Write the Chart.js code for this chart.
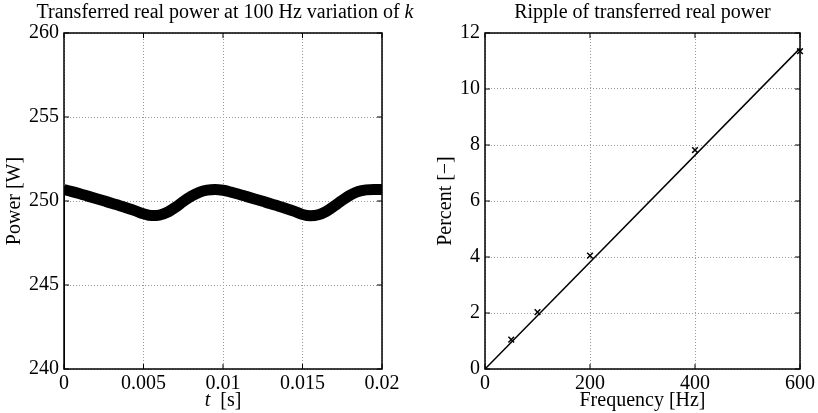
<!DOCTYPE html>
<html>
<head>
<meta charset="utf-8">
<script src="https://cdn.jsdelivr.net/npm/chart.js@4.4.0/dist/chart.umd.min.js"></script>
<style>
html, body { margin: 0; padding: 0; background: #fff; }
#wrap { position: relative; width: 818px; height: 413px; overflow: hidden; }
#left { position: absolute; left: 0; top: 0; width: 440px; height: 413px; }
#right { position: absolute; left: 409px; top: 0; width: 409px; height: 413px; }
</style>
</head>
<body>
<div id="wrap">
  <div id="left"><canvas id="powerChart"></canvas></div>
  <div id="right"><canvas id="rippleChart"></canvas></div>
</div>
<script>
// left plot: transferred power over one 20 ms window
var timeS = [0, 0.0005, 0.001, 0.0015, 0.002, 0.0025, 0.003, 0.0035, 0.004, 0.0045,
  0.005, 0.0055, 0.006, 0.0065, 0.007, 0.0075, 0.008, 0.0085, 0.009, 0.0095,
  0.01, 0.0105, 0.011, 0.0115, 0.012, 0.0125, 0.013, 0.0135, 0.014, 0.0145,
  0.015, 0.0155, 0.016, 0.0165, 0.017, 0.0175, 0.018, 0.0185, 0.019, 0.0195, 0.02];
var powerW = [250.68, 250.56, 250.43, 250.29, 250.15, 250.01, 249.87, 249.72, 249.57, 249.41,
  249.24, 249.13, 249.16, 249.33, 249.62, 249.97, 250.28, 250.52, 250.65, 250.69,
  250.64, 250.53, 250.40, 250.26, 250.12, 249.98, 249.84, 249.69, 249.54, 249.38,
  249.20, 249.12, 249.18, 249.38, 249.70, 250.05, 250.35, 250.56, 250.66, 250.69, 250.68];
// start-up jump at t = 0
var startTimeS = [0, 0];
var startPowerW = [240, 250.9];
var powerTicksX = [0, 0.005, 0.01, 0.015, 0.02];
var powerTickLabelsX = ['0', '0.005', '0.01', '0.015', '0.02'];
var powerTicksY = [240, 245, 250, 255, 260];

// right plot: ripple vs frequency
var measFreqHz = [50, 100, 200, 400, 600];
var measRipplePct = [1.05, 2.03, 4.05, 7.82, 11.35];
var fitFreqHz = [0, 600];
var fitRipplePct = [0, 11.45];
var rippleTicksX = [0, 200, 400, 600];
var rippleTicksY = [0, 2, 4, 6, 8, 10, 12];

var FONT = '"Liberation Serif", "Times New Roman", serif';
var SIZE = 20;

function pairs(xs, ys) {
  return xs.map(function (x, i) { return { x: x, y: ys[i] }; });
}

function fixedTicks(list) {
  return function (scale) {
    scale.ticks = list.map(function (v) { return { value: v }; });
  };
}

// box round the plot area plus inward ticks, like the original figure
var boxPlugin = {
  id: 'box',
  afterDraw: function (chart) {
    var ctx = chart.ctx, a = chart.chartArea;
    var sx = chart.scales.x, sy = chart.scales.y;
    ctx.save();
    ctx.strokeStyle = '#000';
    ctx.lineWidth = 1.5;
    ctx.strokeRect(a.left, a.top, a.right - a.left, a.bottom - a.top);
    ctx.lineWidth = 1;
    ctx.beginPath();
    sx.ticks.forEach(function (t) {
      var px = sx.getPixelForValue(t.value);
      ctx.moveTo(px, a.bottom); ctx.lineTo(px, a.bottom - 5);
      ctx.moveTo(px, a.top); ctx.lineTo(px, a.top + 5);
    });
    sy.ticks.forEach(function (t) {
      var py = sy.getPixelForValue(t.value);
      ctx.moveTo(a.left, py); ctx.lineTo(a.left + 5, py);
      ctx.moveTo(a.right, py); ctx.lineTo(a.right - 5, py);
    });
    ctx.stroke();
    ctx.restore();
  }
};

// titles with italic parts
var richTextPlugin = {
  id: 'richText',
  afterDraw: function (chart, args, opts) {
    var ctx = chart.ctx, a = chart.chartArea;
    (opts.items || []).forEach(function (item) {
      ctx.save();
      ctx.fillStyle = '#000';
      ctx.textBaseline = 'middle';
      ctx.textAlign = 'left';
      var total = 0;
      item.parts.forEach(function (p) {
        ctx.font = (p.italic ? 'italic ' : '') + SIZE + 'px ' + FONT;
        p.w = ctx.measureText(p.text).width;
        total += p.w;
      });
      var x = (a.left + a.right) / 2 + (item.dx || 0) - total / 2;
      var y = item.fromBottom ? a.bottom + item.y : item.y;
      item.parts.forEach(function (p) {
        ctx.font = (p.italic ? 'italic ' : '') + SIZE + 'px ' + FONT;
        ctx.fillText(p.text, x, y);
        x += p.w;
      });
      ctx.restore();
    });
  }
};

var gridStyle = { color: '#9a9a9a', drawTicks: false };
var borderStyle = { display: false, dash: [1, 2] };
var tickFont = { family: FONT, size: SIZE };
var titleFont = { family: FONT, size: SIZE };

new Chart(document.getElementById('powerChart'), {
  type: 'line',
  data: {
    datasets: [
      {
        data: pairs(timeS, powerW),
        borderColor: '#000',
        borderWidth: 11,
        borderJoinStyle: 'round',
        cubicInterpolationMode: 'monotone',
        pointRadius: 0
      },
      {
        data: pairs(startTimeS, startPowerW),
        borderColor: '#000',
        borderWidth: 2,
        pointRadius: 0
      }
    ]
  },
  options: {
    responsive: true,
    maintainAspectRatio: false,
    animation: false,
    layout: { padding: { top: 33, left: 0, right: 58, bottom: 0 } },
    plugins: {
      legend: { display: false },
      tooltip: { enabled: false },
      richText: {
        items: [
          { parts: [{ text: 'Transferred real power at 100 Hz variation of ' }, { text: 'k', italic: true }], y: 13, dx: 2 },
          { parts: [{ text: 't', italic: true }, { text: '  [s]' }], y: 32, fromBottom: true }
        ]
      }
    },
    scales: {
      x: {
        type: 'linear',
        min: 0, max: 0.02,
        afterBuildTicks: fixedTicks(powerTicksX),
        afterFit: function (s) { s.height = 44; },
        grid: gridStyle,
        border: borderStyle,
        ticks: {
          color: '#000', font: tickFont, padding: 3, maxRotation: 0,
          callback: function (v) { return powerTickLabelsX[powerTicksX.indexOf(v)]; }
        }
      },
      y: {
        min: 240, max: 260,
        afterBuildTicks: fixedTicks(powerTicksY),
        afterFit: function (s) { s.width = 64; },
        grid: gridStyle,
        border: borderStyle,
        ticks: { color: '#000', font: tickFont, padding: 5 },
        title: { display: true, text: 'Power [W]', color: '#000', font: titleFont, padding: { top: 3, bottom: 0 } }
      }
    }
  },
  plugins: [boxPlugin, richTextPlugin]
});

new Chart(document.getElementById('rippleChart'), {
  type: 'line',
  data: {
    datasets: [
      {
        data: pairs(fitFreqHz, fitRipplePct),
        borderColor: '#000',
        borderWidth: 1.5,
        pointRadius: 0
      },
      {
        data: pairs(measFreqHz, measRipplePct),
        showLine: false,
        pointStyle: 'crossRot',
        pointRadius: 4,
        pointBorderWidth: 1.5,
        pointBorderColor: '#000',
        clip: false
      }
    ]
  },
  options: {
    responsive: true,
    maintainAspectRatio: false,
    animation: false,
    layout: { padding: { top: 33, left: 0, right: 16, bottom: 0 } },
    plugins: {
      legend: { display: false },
      tooltip: { enabled: false },
      richText: {
        items: [
          { parts: [{ text: 'Ripple of transferred real power' }], y: 13 }
        ]
      }
    },
    scales: {
      x: {
        type: 'linear',
        min: 0, max: 600,
        afterBuildTicks: fixedTicks(rippleTicksX),
        afterFit: function (s) { s.height = 44; },
        grid: gridStyle,
        border: borderStyle,
        ticks: { color: '#000', font: tickFont, padding: 3, maxRotation: 0 },
        title: { display: true, text: 'Frequency [Hz]', color: '#000', font: titleFont, padding: { top: 0, bottom: 0 } }
      },
      y: {
        min: 0, max: 12,
        afterBuildTicks: fixedTicks(rippleTicksY),
        afterFit: function (s) { s.width = 76; },
        grid: gridStyle,
        border: borderStyle,
        ticks: { color: '#000', font: tickFont, padding: 5 },
        title: { display: true, text: 'Percent [\u2212]', color: '#000', font: titleFont, padding: { top: 25, bottom: 0 } }
      }
    }
  },
  plugins: [boxPlugin, richTextPlugin]
});
</script>
</body>
</html>
